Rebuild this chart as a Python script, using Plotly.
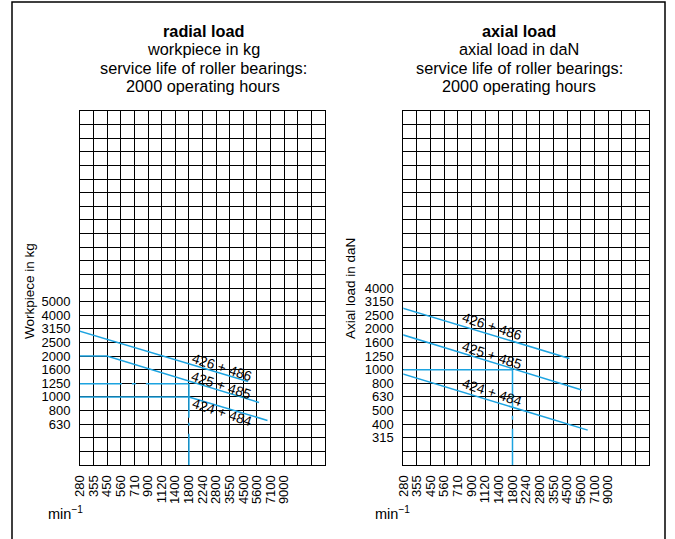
import math
import plotly.graph_objects as go

# ---------------- data ----------------
# speed tick labels (min^-1)
speed_labels = [280, 355, 450, 560, 710, 900, 1120, 1400, 1800, 2240, 2800,
                3550, 4500, 5600, 7100, 9000]
# load tick labels
radial_labels = [630, 800, 1000, 1250, 1600, 2000, 2500, 3150, 4000, 5000]
axial_labels = [315, 400, 500, 630, 800, 1000, 1250, 1600, 2000, 2500, 3150, 4000]

# radial load (workpiece in kg)
rad_426_n = [280, 4900]
rad_426_p = [3050, 1300]
rad_425_n = [280, 450, 5900]
rad_425_p = [2000, 2000, 910]
rad_424_n = [1800, 6800]
rad_424_p = [1000, 672]
rad_ex_speed = 1800
rad_ex_load_dashed = 1250
rad_ex_load_solid = 1000

# axial load (daN)
ax_426_n = [280, 4700]
ax_426_p = [2840, 1210]
ax_425_n = [280, 5800]
ax_425_p = [1810, 710]
ax_424_n = [280, 6400]
ax_424_p = [935, 360]
ax_ex_speed = 1800
ax_ex_load = 1000

series_names = ["426 + 486", "425 + 485", "424 + 484"]
# label anchor points (speed, load)
rad_label_n = [3136, 3083, 3136]
rad_label_p = [1651, 1203, 766]
ax_label_n = [1266, 1266, 1266]
ax_label_p = [2069, 1282, 678]

# ---------------- style ----------------
W, H = 675, 539
BLUE = "#1ca3e0"
FONT = "Liberation Sans, Arial, Helvetica, sans-serif"

X_LO = math.log10(1800) - 0.8
X_HI = X_LO + 1.8
YL_LO, YL_HI = 2.5, 5.1
YR_LO, YR_HI = 2.3, 4.9


def grid_ticks(lo, n_steps, labels):
    vals = [10 ** (lo + k * 0.1) for k in range(n_steps + 1)]
    text = [" "] * (n_steps + 1)
    for v in labels:
        k = int(round((math.log10(v) - lo) * 10))
        if 0 <= k <= n_steps:
            text[k] = str(v)
    return vals, text


xv, xt = grid_ticks(X_LO, 18, speed_labels)
ylv, ylt = grid_ticks(YL_LO, 26, radial_labels)
yrv, yrt = grid_ticks(YR_LO, 26, axial_labels)

fig = go.Figure()


def line(xs, ys, xa, ya, dash="solid", width=1.5):
    fig.add_trace(go.Scatter(x=xs, y=ys, mode="lines", xaxis=xa, yaxis=ya,
                             line=dict(color=BLUE, width=width, dash=dash),
                             showlegend=False, hoverinfo="skip"))


# left chart
line(rad_426_n, rad_426_p, "x", "y")
line(rad_425_n, rad_425_p, "x", "y")
line(rad_424_n, rad_424_p, "x", "y")
line([speed_labels[0], rad_ex_speed], [rad_ex_load_solid] * 2, "x", "y")
line([speed_labels[0], rad_ex_speed], [rad_ex_load_dashed] * 2, "x", "y",
     dash="43px,10px,4px,10px,300px")
line([rad_ex_speed] * 2, [rad_ex_load_dashed, 300], "x", "y",
     dash="34px,5px,3px,8px,300px")

# right chart
line(ax_426_n, ax_426_p, "x2", "y2")
line(ax_425_n, ax_425_p, "x2", "y2")
line(ax_424_n, ax_424_p, "x2", "y2")
line([speed_labels[0], ax_ex_speed], [ax_ex_load] * 2, "x2", "y2")
line([ax_ex_speed] * 2, [ax_ex_load, 190], "x2", "y2",
     dash="38px,8px,4px,9px,300px")

tickfont = dict(family=FONT, size=13, color="black")


def xaxis(domain, anchor):
    return dict(type="log", range=[X_LO, X_HI], domain=domain, anchor=anchor,
                tickmode="array", tickvals=xv, ticktext=xt, tickangle=-90,
                showgrid=True, gridcolor="black", gridwidth=1,
                showline=True, linecolor="black", linewidth=1, mirror=True,
                ticks="", zeroline=False, tickfont=tickfont,
                ticklabelstandoff=4, automargin=False, fixedrange=True)


def yaxis(lo, hi, vals, text, anchor):
    return dict(type="log", range=[lo, hi], domain=[1 - 465 / H, 1 - 111 / H],
                anchor=anchor, tickmode="array", tickvals=vals, ticktext=text,
                showgrid=True, gridcolor="black", gridwidth=1,
                showline=True, linecolor="black", linewidth=1, mirror=True,
                ticks="", zeroline=False, tickfont=tickfont,
                ticklabelstandoff=6, automargin=False, fixedrange=True)


annotations = []


def text(x, y, s, size=16.3, angle=0, bold=False):
    annotations.append(dict(
        x=x / W, y=1 - y / H, xref="paper", yref="paper", showarrow=False,
        text=("<b>%s</b>" % s) if bold else s, textangle=angle,
        xanchor="center", yanchor="middle",
        font=dict(family=FONT, size=size, color="black")))


# titles
text(203, 31, "radial load", bold=True)
text(203, 49, "workpiece in kg")
text(203, 68, "service life of roller bearings:")
text(203, 86, "2000 operating hours")
text(519, 31, "axial load", bold=True)
text(519, 49, "axial load in daN")
text(519, 68, "service life of roller bearings:")
text(519, 86, "2000 operating hours")

# axis titles
text(29, 291, "Workpiece in kg", size=13.5, angle=-90)
text(350, 289, "Axial load in daN", size=13.5, angle=-90)
text(65, 513, "min<sup>−1</sup>", size=14.5)
text(392, 513, "min<sup>−1</sup>", size=14.5)

# series labels
for name, n, p in zip(series_names, rad_label_n, rad_label_p):
    annotations.append(dict(x=math.log10(n), y=math.log10(p), xref="x", yref="y",
                            text=name, showarrow=False, textangle=18,
                            font=dict(family=FONT, size=13.8, color="black")))
for name, n, p in zip(series_names, ax_label_n, ax_label_p):
    annotations.append(dict(x=math.log10(n), y=math.log10(p), xref="x2", yref="y2",
                            text=name, showarrow=False, textangle=18,
                            font=dict(family=FONT, size=13.8, color="black")))

fig.update_layout(
    width=W, height=H,
    margin=dict(l=0, r=0, t=0, b=0),
    paper_bgcolor="white", plot_bgcolor="white",
    xaxis=xaxis([80 / W, 325 / W], "y"),
    yaxis=yaxis(YL_LO, YL_HI, ylv, ylt, "x"),
    xaxis2=xaxis([403.3 / W, 649 / W], "y2"),
    yaxis2=yaxis(YR_LO, YR_HI, yrv, yrt, "x2"),
    annotations=annotations,
    shapes=[dict(type="rect", xref="paper", yref="paper",
                 x0=12 / W, x1=665 / W, y0=-0.2, y1=1 - 2 / H,
                 line=dict(color="black", width=1.5))],
    showlegend=False,
)

fig.write_html("out.html",
               config={"displayModeBar": False},
               post_script="document.body.style.margin='0';"
                           "document.body.style.overflow='hidden';")
